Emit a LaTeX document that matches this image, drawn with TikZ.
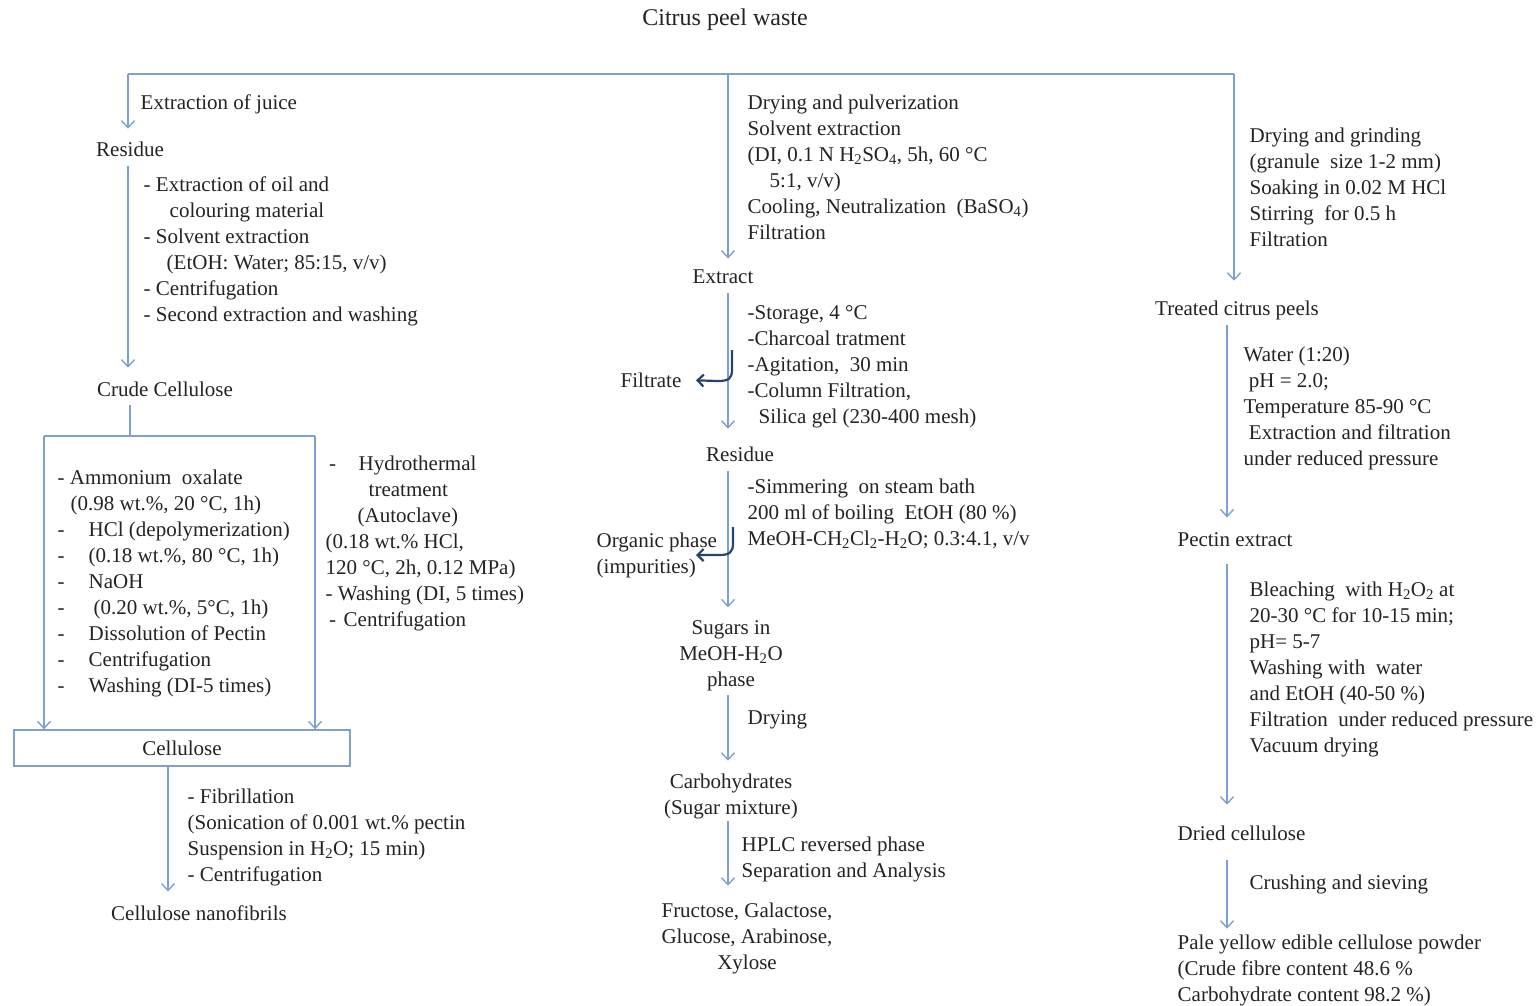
\documentclass[tikz,border=0pt]{standalone}
\usepackage{fontspec}
\setmainfont{Liberation Serif}
\usetikzlibrary{arrows.meta}

\definecolor{flowblue}{RGB}{128,160,205}
\definecolor{bendblue}{RGB}{38,68,108}
\definecolor{ink}{RGB}{35,35,35}

\tikzset{every picture/.style={line width=1.4pt}}

\begin{document}
\begin{tikzpicture}[x=1pt,y=1pt,yscale=-1,
  lbl/.style={anchor=base west,align=left,inner sep=0pt,text=ink,font=\fontsize{21}{26}\selectfont},
  clbl/.style={lbl,anchor=base,align=center},
  link/.style={draw=flowblue},
  flow/.style={draw=flowblue,-{Straight Barb[length=7pt,width=13pt]}},
  sideflow/.style={draw=bendblue,line width=2.2pt,-{Straight Barb[length=6pt,width=12pt]}}]
\useasboundingbox (0,0) rectangle (1539,1005);
% note: base of a multi-line label = baseline of its last line

% Source and the three branches
\node[clbl, font=\fontsize{24}{26}\selectfont] (peel) at (725,25) {Citrus peel waste};
\coordinate (busL) at (128,74);
\coordinate (busM) at (728,74);
\coordinate (busR) at (1234,74);
\coordinate (colR) at (1227,0);
\draw[link] (busL) -- (busR);

%% Left branch: cellulose nanofibrils
\node[lbl] (juice) at (140,109) {Extraction of juice};
\node[clbl] (resL) at (130,156) {Residue};
\draw[flow, shorten >=12pt] (busL) -- (busL |- resL.north);

\node[lbl] (stepsL) at (143,321) {- Extraction of oil and\\\hspace{26pt}colouring material\\- Solvent extraction\\\hspace{23pt}(EtOH: Water; 85:15, v/v)\\- Centrifugation\\- Second extraction and washing};
\node[clbl] (crude) at (165,396) {Crude Cellulose};
\draw[flow, shorten <=9pt, shorten >=13pt] (resL.south -| busL) -- (crude.north -| busL);

% split into the two treatments
\coordinate (split) at (130,436);
\coordinate (splitL) at (44,436);
\coordinate (splitR) at (315,436);
\draw[link, shorten <=8pt] (crude.south -| split) -- (split);
\draw[link] (splitL) -- (splitR);

\node[lbl] (chem) at (57,692) {- Ammonium\ \ oxalate\\\hspace{13pt}(0.98 wt.\%, 20 °C, 1h)\\\makebox[31pt][l]{-}HCl (depolymerization)\\\makebox[31pt][l]{-}(0.18 wt.\%, 80 °C, 1h)\\\makebox[31pt][l]{-}NaOH\\\makebox[36pt][l]{-}(0.20 wt.\%, 5°C, 1h)\\\makebox[31pt][l]{-}Dissolution of Pectin\\\makebox[31pt][l]{-}Centrifugation\\\makebox[31pt][l]{-}Washing (DI-5 times)};
\node[lbl] (hydro) at (325,626) {\makebox[33pt][l]{\,-}Hydrothermal\\\hspace{43pt}treatment\\\hspace{32pt}(Autoclave)\\(0.18 wt.\% HCl,\\120 °C, 2h, 0.12 MPa)\\- Washing (DI, 5 times)\\\makebox[18pt][l]{\,-}Centrifugation};

\node[draw=flowblue, minimum width=336pt, minimum height=36pt, inner sep=0pt, text=ink, font=\fontsize{21}{26}\selectfont] (cell) at (182,748) {Cellulose};
\draw[flow] (splitL) -- (splitL |- cell.north);
\draw[flow] (splitR) -- (splitR |- cell.north);

\node[lbl] (fibril) at (187,881) {- Fibrillation\\(Sonication of 0.001 wt.\% pectin\\Suspension in H\textsubscript{2}O; 15 min)\\- Centrifugation};
\node[clbl] (nano) at (199,920) {Cellulose nanofibrils};
\coordinate (fibTop) at ([xshift=-14pt]cell.south);
\draw[flow, shorten >=13pt] (fibTop) -- (fibTop |- nano.north);

%% Middle branch: sugars
\node[lbl] (stepsM1) at (747,239) {Drying and pulverization\\Solvent extraction\\(DI, 0.1 N H\textsubscript{2}SO\textsubscript{4}, 5h, 60 °C\\\hspace{22pt}5:1, v/v)\\Cooling, Neutralization\ \ (BaSO\textsubscript{4})\\Filtration};
\node[clbl] (extract) at (723,283) {Extract};
\draw[flow, shorten >=10pt] (busM) -- (busM |- extract.north);

\node[lbl] (stepsM2) at (747,423) {-Storage, 4 °C\\-Charcoal tratment\\-Agitation,\ \ 30 min\\-Column Filtration,\\\hspace{11pt}Silica gel (230-400 mesh)};
\node[clbl] (resM) at (740,461) {Residue};
\draw[flow, shorten <=9pt, shorten >=17pt] (extract.south -| busM) -- (resM.north -| busM);

\node[lbl] (filtrate) at (620,387) {Filtrate};
\coordinate (tapF) at (732,350);
\draw[sideflow, shorten >=14pt] (tapF) -- (732,369) .. controls (732,379) and (729,381) .. (717,381) -- (filtrate.east);

\node[lbl] (stepsM3) at (747,545) {-Simmering\ \ on steam bath\\200 ml of boiling\ \ EtOH (80 \%)\\MeOH-CH\textsubscript{2}Cl\textsubscript{2}-H\textsubscript{2}O; 0.3:4.1, v/v};
\node[clbl] (sugars) at (731,686) {Sugars in\\MeOH-H\textsubscript{2}O\\phase};
\draw[flow, shorten <=9pt, shorten >=12pt] (resM.south -| busM) -- (sugars.north -| busM);

\node[lbl] (organic) at (596,573) {Organic phase\\(impurities)};
\coordinate (tapO) at (733,527);
\coordinate (tipO) at (696,555);
\draw[sideflow] (tapO) -- (733,543) .. controls (733,552) and (730,555) .. (719,555) -- (tipO);

\node[lbl] (drying) at (747,724) {Drying};
\node[clbl] (carbo) at (731,814) {Carbohydrates\\(Sugar mixture)};
\draw[flow, shorten <=4pt, shorten >=12pt] (sugars.south -| busM) -- (carbo.north -| busM);

\node[lbl] (hplc) at (741,877) {HPLC reversed phase\\Separation and Analysis};
\node[clbl] (monos) at (747,969) {Fructose, Galactose,\\Glucose, Arabinose,\\Xylose};
\draw[flow, shorten <=2pt, shorten >=16pt] (carbo.south -| busM) -- (monos.north -| busM);

%% Right branch: pectin and edible cellulose
\node[lbl] (stepsR1) at (1249,246) {Drying and grinding\\(granule\ \ size 1-2 mm)\\Soaking in 0.02 M HCl\\Stirring\ \ for 0.5 h\\Filtration};
\node[clbl] (treated) at (1237,315) {Treated citrus peels};
\draw[flow, shorten >=19pt] (busR) -- (busR |- treated.north);

\node[lbl] (stepsR2) at (1243,465) {Water (1:20)\\\ pH = 2.0;\\Temperature 85-90 °C\\\ Extraction and filtration\\under reduced pressure};
\node[clbl] (pectin) at (1235,546) {Pectin extract};
\draw[flow, shorten <=5pt, shorten >=14pt] (treated.south -| colR) -- (pectin.north -| colR);

\node[lbl] (stepsR3) at (1249,752) {Bleaching\ \ with H\textsubscript{2}O\textsubscript{2} at\\20-30 °C for 10-15 min;\\pH= 5-7\\Washing with\ \ water\\and EtOH (40-50 \%)\\Filtration\ \ under reduced pressure\\Vacuum drying};
\node[lbl] (dried) at (1177,840) {Dried cellulose};
\draw[flow, shorten <=17pt, shorten >=20pt] (pectin.south -| colR) -- (dried.north -| colR);

\node[lbl] (crush) at (1249,889) {Crushing and sieving};
\node[lbl] (powder) at (1177,1001) {Pale yellow edible cellulose powder\\(Crude fibre content 48.6 \%\\Carbohydrate content 98.2 \%)};
\draw[flow, shorten <=19pt, shorten >=5pt] (dried.south -| colR) -- (powder.north -| colR);

\end{tikzpicture}
\end{document}
